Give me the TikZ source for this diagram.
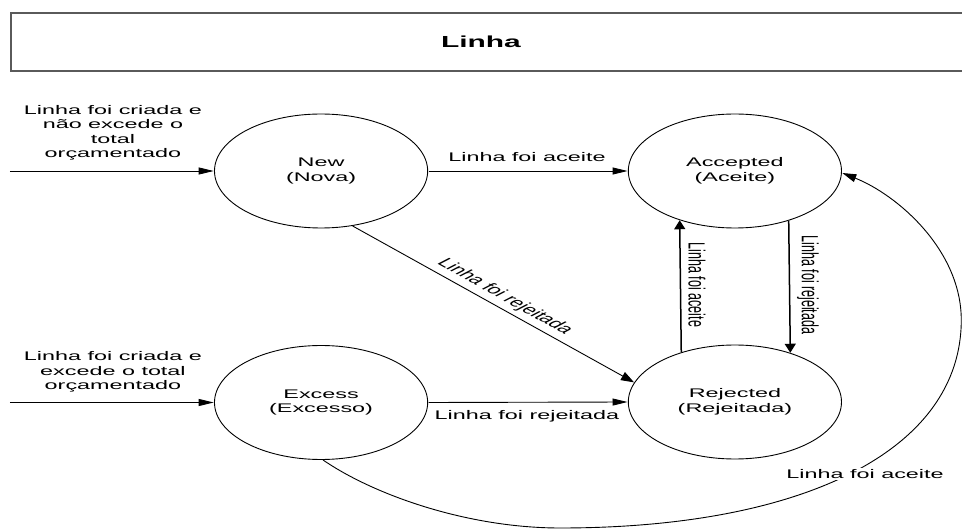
\documentclass[tikz,border=0pt]{standalone}
\usepackage{fontspec}
\setmainfont{Liberation Sans}
\usetikzlibrary{arrows.meta}
\definecolor{boxgray}{RGB}{90,90,90}
\begin{document}
\begin{tikzpicture}[x=1pt,y=-1pt,xscale=1.87,transform shape,
  every node/.style={font=\fontsize{12.5}{14.5}\selectfont},
  state/.style={circle,draw,line width=0.9pt,minimum size=114pt,inner sep=0pt,align=center},
  lbl/.style={align=center,inner sep=1pt},
  harrow/.style={line width=0.9pt,-{Triangle[length=15pt,width=7pt]}},
  varrow/.style={line width=1.5pt,-{Triangle[length=9pt,width=11pt]}},
  darrow/.style={line width=0.9pt,-{Triangle[length=13pt,width=9pt]}},
  carrow/.style={line width=0.9pt,-{Triangle[length=14pt,width=8pt]}}]
\useasboundingbox (0,0) rectangle (514.44,529);
% title box (open on the right)
\draw[boxgray,line width=1.6pt] (514.44,13) -- (5.9,13) -- (5.9,71) -- (514.44,71);
\node[font=\fontsize{16}{18}\selectfont\bfseries] (title) at (257.2,42) {Linha};
% states
\node[state] (new) at (171.7,171) {New\\(Nova)};
\node[state] (acc) at (393,171) {Accepted\\(Aceite)};
\node[state] (exc) at (171.7,402.5) {Excess\\(Excesso)};
\node[state] (rej) at (393,402) {Rejected\\(Rejeitada)};
% incoming
\coordinate (inN) at (5.3,171);
\coordinate (inE) at (5.3,402.5);
\draw[harrow] (inN) -- (new.west);
\draw[harrow] (inE) -- (exc.west);
\node[lbl] (lN) at (60.4,133) {Linha foi criada e\\não excede o\\total\\orçamentado};
\node[lbl] (lE) at (60.4,372) {Linha foi criada e\\excede o total\\orçamentado};
% transitions
\draw[harrow] (new.east) -- (acc.west);
\node[lbl] (l1) at (281.8,157) {Linha foi aceite};
\draw[harrow] (exc.east) -- (rej.west);
\node[lbl] (l2) at (281.8,416) {Linha foi rejeitada};
\draw[darrow] (new.-73) -- (rej.160.4);
\node[lbl,rotate=-46] (l3) at (270,297) {Linha foi rejeitada};
\draw[varrow] (rej.120.6) -- (acc.239.4);
\node[lbl,rotate=-90] (l4) at (372.7,285) {Linha foi aceite};
\draw[varrow] (acc.300.6) -- (rej.59.4);
\node[lbl,rotate=-90] (l5) at (432.1,285) {Linha foi rejeitada};
% long curve Excess -> Accepted
\coordinate (cb) at (299.5,528);
\coordinate (cr) at (514,320);
\draw[carrow] (exc.-89) .. controls (200,495) and (250,528) .. (cb)
  .. controls (430,528) and (514,450) .. (cr)
  .. controls (514,250) and (480,195) .. (acc.-2);
\node[lbl,fill=white] (l6) at (462.6,474) {Linha foi aceite};
\end{tikzpicture}
\end{document}
